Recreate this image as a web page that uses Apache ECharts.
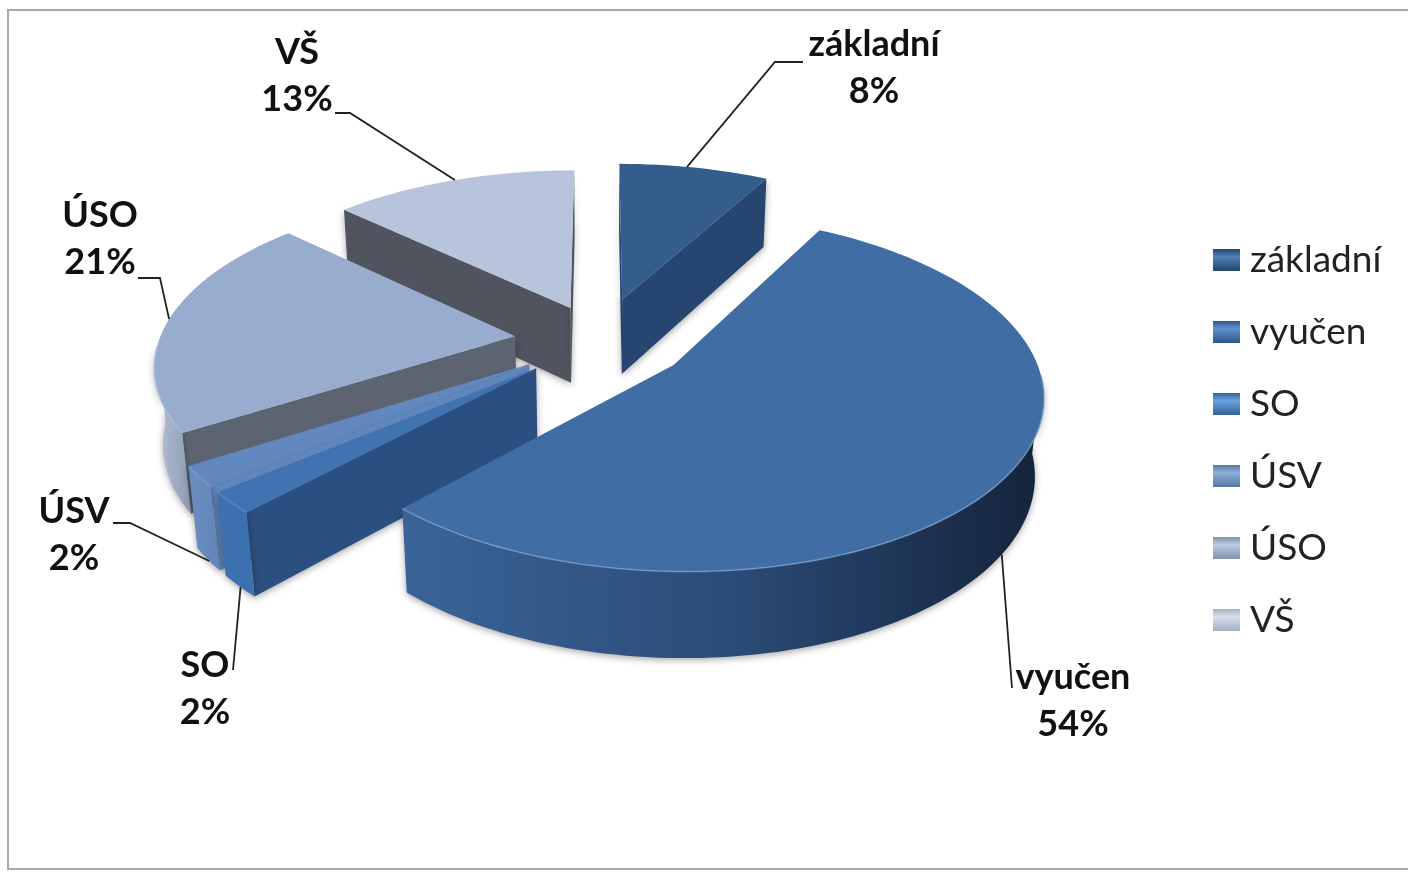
<!DOCTYPE html>
<html><head><meta charset="utf-8">
<style>html,body{margin:0;padding:0;background:#fff}#c{width:1408px;height:872px;filter:blur(0.5px)}</style>
<script src="https://cdn.jsdelivr.net/npm/echarts@6/dist/echarts.min.js"></script>
</head><body><div id="c"></div>
<script>
const categories = ['základní','vyučen','SO','ÚSV','ÚSO','VŠ'];
const values = [8,54,2,2,21,13];
const pulls = [0.26,0.25,0.24,0.24,0.24,0.215];
const topColors = ['#345d8e','#3f6da4','#3f73b2','#6388bd','#98acce','#b8c4dc'];
const wallColors = ['#264570','#2d4f80','#2b4f80','#6186bb','#5c6472','#50545e'];
const rimColors = ['#4a73a3','#7f9fc8','#5f8fc8','#80a0cc','#aebdd8','#c6d0e2'];
const outerStops = [
 ['#264570','#264570'],['#3a6499','#2c4c78','#14233b'],['#3d70ae','#3d70ae'],
 ['#6b8dbe','#6186bb'],['#b6c2d6','#8e9bb3'],['#8a95aa','#8a95aa']];
const legendLights = ['#4f7fb5','#5f92cf','#6aa2de','#8fb0dc','#bccbe4','#d8e0ee'];
const legendDarks = ['#24466f','#2f5688','#336299','#55779f','#8391ab','#a3afc2'];
const zOrder = [2,6,5,4,3,1];
const labelLayout = [
 {x:874,y:68,start:[13,0],path:[[775,62],[803,62]]},
 {x:1073,y:701,start:[124,1],path:[[1012,688]]},
 {x:205,y:689,start:[226.5,1],path:[[233,670]]},
 {x:74,y:535,start:[233.5,1],path:[[130,523],[113,523]]},
 {x:100,y:239,start:[276,0],path:[[160,278],[138,278]]},
 {x:297,y:76,start:[337,0],path:[[350,113],[335,113]]}
];
const CX=600, CY=340, S=356, TILT=28*Math.PI/180, K=0.17, H=0.248;
const VISIBLE_COS=-0.06;
function proj(x,y,z){
  const Y=y*Math.sin(TILT)+z*Math.cos(TILT);
  const Z=y*Math.cos(TILT)-z*Math.sin(TILT);
  const s=S/(1+K*Z);
  return [CX+x*s, CY-Y*s];
}
const total=values.reduce(function(a,b){return a+b;},0);
function sliceAngles(i){
  let a=0; for(let j=0;j<i;j++) a+=values[j];
  return [a/total*2*Math.PI,(a+values[i])/total*2*Math.PI];
}
function hGrad(stops){
  return new echarts.graphic.LinearGradient(0,0,1,0,stops.map(function(c,i){return {offset:i/(stops.length-1),color:c};}));
}
function makeRender(i){
  return function(params,api){
    const val=api.value(0);
    const ang=sliceAngles(i), a0=ang[0], a1=ang[1], mid=(a0+a1)/2;
    const px=Math.sin(mid)*pulls[i], py=Math.cos(mid)*pulls[i];
    const n=Math.max(4,Math.ceil(val*2));
    const at=function(t,r,z){return proj(px+r*Math.sin(t),py+r*Math.cos(t),z);};
    const arcTop=[];
    for(let k=0;k<=n;k++){ arcTop.push(at(a0+(a1-a0)*k/n,1,0)); }
    const c0=at(0,0,0), c1=at(0,0,-H), m=at(mid,1,0);
    const shadow={shadowBlur:7,shadowColor:'rgba(0,0,0,0.35)',shadowOffsetY:2};
    const poly=function(pts,fill,extra){
      return {type:'polygon',shape:{points:pts},style:Object.assign({fill:fill},extra||{})};
    };
    const kids=[];
    [a0,a1].forEach(function(t){
      const e=at(t,1,0), eb=at(t,1,-H);
      const dx=e[0]-c0[0], dy=e[1]-c0[1];
      const crossMid=dx*(m[1]-c0[1])-dy*(m[0]-c0[0]);
      if(crossMid*dx<0) kids.push(poly([c0,e,eb,c1],wallColors[i],shadow));
    });
    const tL=Math.acos(VISIBLE_COS);
    const o0=Math.max(a0,tL), o1=Math.min(a1,2*Math.PI-tL);
    const rim=[];
    if(o1>o0){
      const bt=[];
      for(let k=0;k<=n;k++){
        const t=o0+(o1-o0)*k/n;
        rim.push(at(t,1,0)); bt.unshift(at(t,1,-H));
      }
      kids.push(poly(rim.concat(bt),hGrad(outerStops[i]),shadow));
    }
    kids.push(poly([c0].concat(arcTop),topColors[i]));
    if(rim.length){
      kids.push({type:'polyline',shape:{points:rim},style:{stroke:rimColors[i],lineWidth:1.6,fill:null,opacity:0.7}});
    }
    const L=labelLayout[i];
    const st=at(L.start[0]*Math.PI/180,1,-H*L.start[1]);
    kids.push({type:'polyline',shape:{points:[st].concat(L.path)},style:{stroke:'#222',lineWidth:1.8,fill:null}});
    kids.push({type:'text',x:L.x,y:L.y,style:{
      text:categories[i]+'\n'+val+'%',fill:'#111',align:'center',verticalAlign:'middle',
      font:'bold 36px Lato',lineHeight:47}});
    return {type:'group',children:kids};
  };
}
const chart=echarts.init(document.getElementById('c'));
chart.setOption({
  animation:false,
  backgroundColor:'#fff',
  legend:{
    orient:'vertical',left:1208,top:234,itemWidth:27,itemHeight:22,itemGap:30,icon:'rect',
    data:categories,selectedMode:false,
    textStyle:{fontFamily:'Lato',fontSize:37,color:'#222',padding:[0,0,0,5],height:42,lineHeight:42}
  },
  graphic:[{type:'rect',shape:{x:8,y:10,width:1420,height:859},style:{fill:'none',stroke:'#a8a8a8',lineWidth:2},silent:true,z:-1}],
  series:categories.map(function(name,i){
    return {type:'custom',name:name,coordinateSystem:'none',z:zOrder[i],silent:true,
      itemStyle:{color:new echarts.graphic.LinearGradient(0,0,0,1,[
        {offset:0,color:legendDarks[i]},{offset:0.35,color:legendLights[i]},{offset:1,color:legendDarks[i]}])},
      data:[[values[i]]],renderItem:makeRender(i)};
  })
});
</script></body></html>
